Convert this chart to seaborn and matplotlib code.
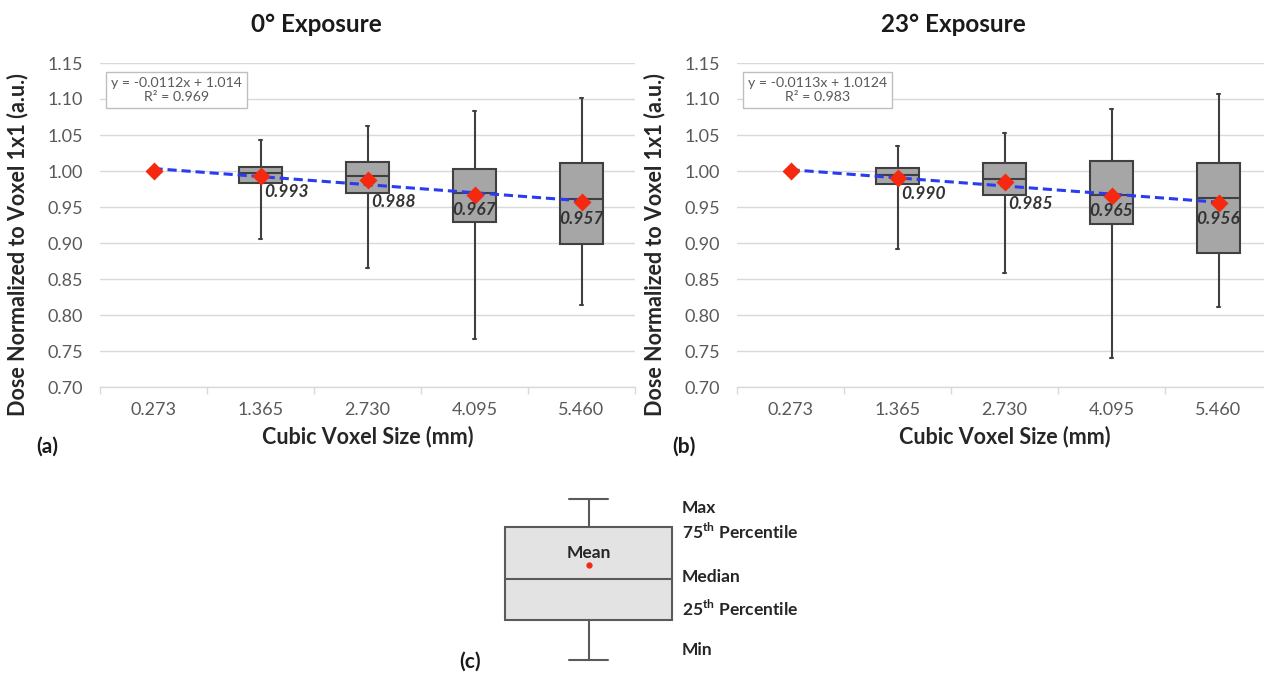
import numpy as np
import pandas as pd
import matplotlib
matplotlib.use("Agg")
import matplotlib.pyplot as plt
import seaborn as sns
from matplotlib.ticker import FormatStrFormatter, FixedLocator

# ---------------- data ----------------
voxel_sizes = ["0.273", "1.365", "2.730", "4.095", "5.460"]
box_sizes = ["1.365", "2.730", "4.095", "5.460"]

# panel (a) 0° exposure
a_max = [1.043, 1.062, 1.083, 1.102]
a_q3 = [1.006, 1.012, 1.003, 1.011]
a_med = [0.997, 0.993, 0.969, 0.961]
a_q1 = [0.983, 0.970, 0.929, 0.899]
a_min = [0.906, 0.865, 0.767, 0.814]
a_mean = [1.000, 0.993, 0.988, 0.967, 0.957]
a_fit = (-0.0112, 1.014, 0.969)

# panel (b) 23° exposure
b_max = [1.035, 1.053, 1.086, 1.107]
b_q3 = [1.004, 1.011, 1.014, 1.011]
b_med = [0.994, 0.989, 0.966, 0.962]
b_q1 = [0.982, 0.967, 0.926, 0.886]
b_min = [0.891, 0.859, 0.740, 0.811]
b_mean = [1.000, 0.990, 0.985, 0.965, 0.956]
b_fit = (-0.0113, 1.0124, 0.983)

y_ticks = [0.70, 0.75, 0.80, 0.85, 0.90, 0.95, 1.00, 1.05, 1.10, 1.15]

# schematic legend box (c): min, q1, median, q3, max, mean
legend_vals = [0, 40, 81, 133, 161]
legend_mean = 95
legend_labels = ["Min", r"25$^{\mathbf{th}}$ Percentile", "Median",
                 r"75$^{\mathbf{th}}$ Percentile", "Max"]

# ---------------- style ----------------
sns.set_theme(style="white")
plt.rcParams["font.family"] = ["Lato", "DejaVu Sans"]
plt.rcParams["mathtext.fontset"] = "custom"
plt.rcParams["mathtext.rm"] = "Lato"
plt.rcParams["mathtext.bf"] = "Lato:bold"

BOX_FILL = "#a6a6a6"
EDGE = "#404040"
RED = "#f4290f"
BLUE = "#2b3cf0"
GRID = "#d9d9d9"
TICK_C = "#595959"

W, H = 1264, 675
fig = plt.figure(figsize=(W / 100, H / 100), dpi=100)
fig.patch.set_facecolor("white")

LABEL_DX = [0, 0.03, 0.03, 0.0, 0.0]
LABEL_DY = [0, -0.022, -0.031, -0.021, -0.023]
LABEL_HA = ["left", "left", "left", "center", "center"]


def panel(x0, title, letter, mins, q1s, meds, q3s, maxs, means, fit):
    ax = fig.add_axes([(x0 + 100) / W, 1 - 387 / H, 535 / W, 324 / H])
    rows = []
    for i, cat in enumerate(box_sizes):
        for v in (mins[i], q1s[i], meds[i], q3s[i], maxs[i]):
            rows.append({"size": cat, "dose": v})
    df = pd.DataFrame(rows)
    sns.boxplot(data=df, x="size", y="dose", order=voxel_sizes, ax=ax,
                width=0.4, whis=(0, 100), color=BOX_FILL, linecolor=EDGE,
                linewidth=1.5, saturation=1, showfliers=False, capwidths=0.03)
    sns.regplot(x=np.arange(len(voxel_sizes)), y=np.array(means), ax=ax,
                scatter=False, ci=None, truncate=True,
                line_kws=dict(color=BLUE, lw=2.2, ls=(0, (3, 1.6)), zorder=5))
    sns.pointplot(x=voxel_sizes, y=means, order=voxel_sizes, ax=ax, color=RED,
                  marker="D", markersize=7.5, linestyle="none", errorbar=None,
                  zorder=7)
    for i, m in enumerate(means):
        if i == 0:
            continue
        ax.text(i + LABEL_DX[i], m + LABEL_DY[i], f"{m:.3f}", ha=LABEL_HA[i],
                va="center", fontsize=12.5, fontweight="bold", fontstyle="italic",
                color="#333333", zorder=8)
    slope, intercept, r2 = fit
    ax.text(11 / 535, 1 - 14 / 324, f"y = {slope:g}x + {intercept:g}\nR² = {r2:.3f}",
            transform=ax.transAxes, ha="left", va="top", fontsize=10.2,
            color=TICK_C, multialignment="center", linespacing=1.2,
            bbox=dict(boxstyle="square,pad=0.35", fc="white", ec="#bfbfbf", lw=1),
            zorder=9)

    ax.set_xlim(-0.5, 4.5)
    ax.set_ylim(0.70, 1.15)
    ax.set_yticks(y_ticks)
    ax.yaxis.set_major_formatter(FormatStrFormatter("%.2f"))
    ax.yaxis.grid(True, color=GRID, lw=1)
    ax.xaxis.grid(False)
    ax.set_axisbelow(True)
    for s in ("left", "right", "top"):
        ax.spines[s].set_visible(False)
    ax.spines["bottom"].set_color(GRID)
    ax.spines["bottom"].set_linewidth(1)
    ax.xaxis.set_minor_locator(FixedLocator(np.arange(-0.5, 5, 1.0)))
    ax.tick_params(axis="x", which="major", length=0, pad=11, labelsize=13,
                   labelcolor=TICK_C)
    ax.tick_params(axis="x", which="minor", length=5, color=GRID, width=1,
                   direction="out", bottom=True)
    ax.tick_params(axis="y", length=0, pad=12, labelsize=13, labelcolor=TICK_C)
    ax.set_ylabel("")
    ax.set_xlabel("Cubic Voxel Size (mm)", fontsize=15.5, fontweight="bold",
                  color="#262626")
    ax.xaxis.set_label_coords(0.5, -(437 - 387) / 324)
    ax.xaxis.label.set_va("center")

    fig.text((x0 + 316) / W, 1 - 25 / H, title, ha="center", va="center",
             fontsize=17.5, fontweight="bold", color="#1a1a1a")
    fig.text((x0 + 18) / W, 1 - 245 / H, "Dose Normalized to Voxel 1x1 (a.u.)",
             rotation=90, ha="center", va="center", fontsize=15.5,
             fontweight="bold", color="#262626")
    fig.text((x0 + 47) / W, 1 - 447 / H, letter, ha="center", va="center",
             fontsize=15, fontweight="bold", color="#1a1a1a")
    return ax


panel(0, "0° Exposure", "(a)", a_min, a_q1, a_med, a_q3, a_max, a_mean, a_fit)
panel(637, "23° Exposure", "(b)", b_min, b_q1, b_med, b_q3, b_max, b_mean, b_fit)

# ---------------- schematic legend (c) ----------------
axl = fig.add_axes([495 / W, 1 - 670 / H, 187 / W, 181 / H])
sns.boxplot(y=legend_vals, ax=axl, width=1.0, whis=(0, 100), color="#e3e3e3",
            linecolor="#5a5a5a", linewidth=1.5, saturation=1, showfliers=False,
            capwidths=0.23)
axl.set_xlim(-0.56, 0.56)
axl.set_ylim(-10, 171)
axl.axis("off")
axl.plot([0], [legend_mean], marker="o", ms=3.5, color=RED, ls="none")
axl.text(0, legend_mean + 4, "Mean", ha="center", va="bottom", fontsize=12.5,
         fontweight="bold", color="#262626")
label_y = [10, 51, 83, 128, 152]
for lab, yv in zip(legend_labels, label_y):
    axl.text(0.56, yv, lab, ha="left", va="center", fontsize=12.5,
             fontweight="bold", color="#262626")
fig.text(470 / W, 1 - 662 / H, "(c)", ha="center", va="center", fontsize=15,
         fontweight="bold", color="#1a1a1a")

fig.savefig("out.png", dpi=100, facecolor="white")
